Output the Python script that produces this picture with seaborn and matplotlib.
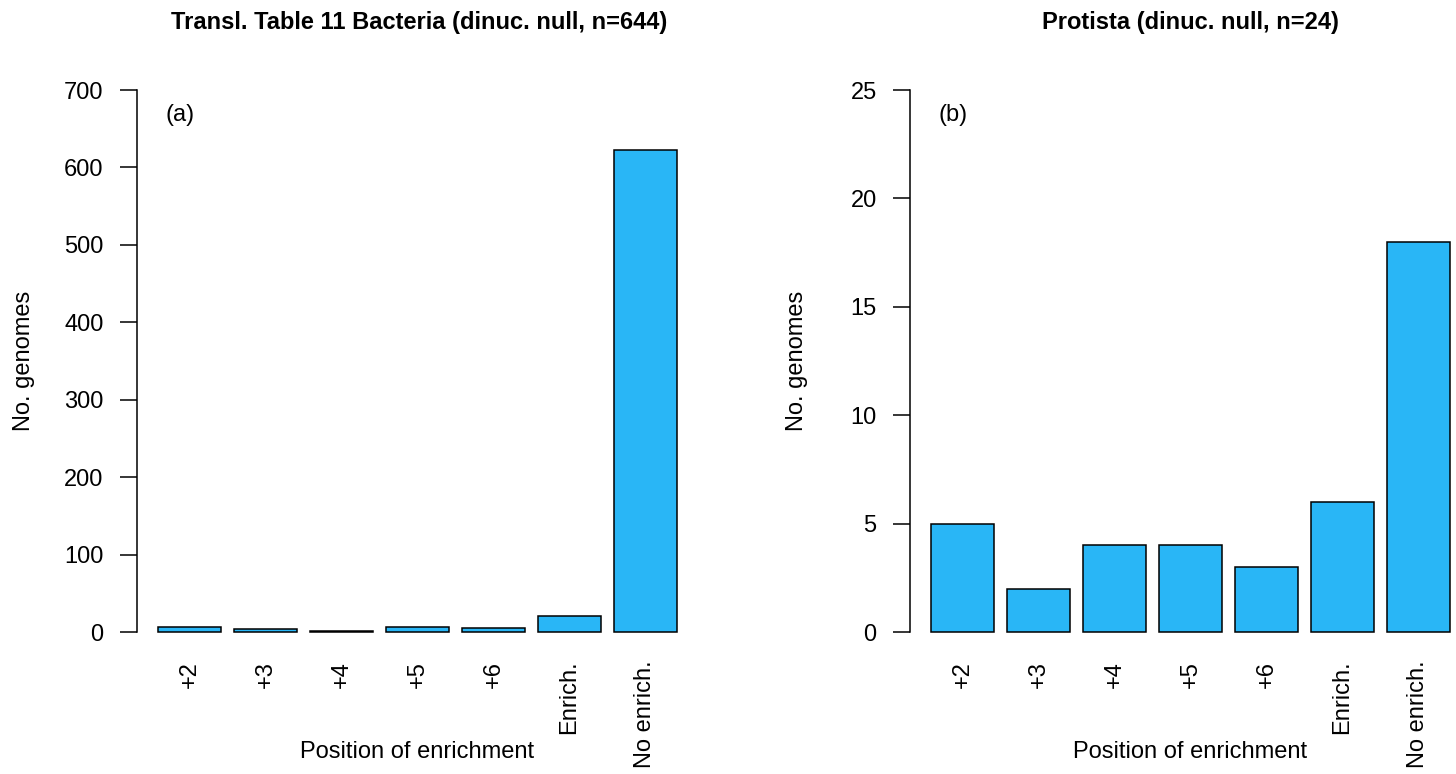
import matplotlib
matplotlib.use("Agg")
import matplotlib.pyplot as plt
import seaborn as sns
import pandas as pd

categories = ["+2", "+3", "+4", "+5", "+6", "Enrich.", "No enrich."]
bacteria_counts = [6, 4, 1, 6, 5, 21, 623]
protista_counts = [5, 2, 4, 4, 3, 6, 18]
titles = ["Transl. Table 11 Bacteria (dinuc. null, n=644)", "Protista (dinuc. null, n=24)"]
panel_labels = ["(a)", "(b)"]
bacteria_yticks = [0, 100, 200, 300, 400, 500, 600, 700]
protista_yticks = [0, 5, 10, 15, 20, 25]

sns.set_style("white")
plt.rcParams["font.family"] = ["Liberation Sans", "DejaVu Sans"]
plt.rcParams["text.color"] = "black"
plt.rcParams["axes.labelcolor"] = "black"
plt.rcParams["xtick.color"] = "black"
plt.rcParams["ytick.color"] = "black"

fig = plt.figure(figsize=(14.56, 7.74), dpi=100)
ax1 = fig.add_axes([0.0941, 0.1554, 0.3853, 0.7563])
ax2 = fig.add_axes([0.625, 0.1554, 0.3853, 0.7563])

bar_color = "#29B6F6"

for ax, counts, title, plabel, yticks in [
    (ax1, bacteria_counts, titles[0], panel_labels[0], bacteria_yticks),
    (ax2, protista_counts, titles[1], panel_labels[1], protista_yticks),
]:
    df = pd.DataFrame({"category": categories, "count": counts})
    sns.barplot(data=df, x="category", y="count", color=bar_color, saturation=1,
                width=0.8333, edgecolor="black", linewidth=1.1, errorbar=None, ax=ax)
    top = yticks[-1]
    ext = 0.04 * top
    ax.set_ylim(-ext, top + ext)
    ax.set_xlim(-0.693, 6.693)
    ax.set_yticks(yticks)
    for s in ["top", "right", "bottom"]:
        ax.spines[s].set_visible(False)
    ax.spines["left"].set_bounds(0, top)
    ax.spines["left"].set_linewidth(1.1)
    ax.spines["left"].set_color("black")
    ax.tick_params(axis="y", length=12, width=1.1, labelsize=17, pad=12, left=True,
                   color="black", labelcolor="black")
    ax.tick_params(axis="x", length=0, labelsize=17, pad=5, labelcolor="black")
    for lab in ax.get_xticklabels():
        lab.set_rotation(90)
        lab.set_va("top")
        lab.set_ha("center")
    ax.set_ylabel("No. genomes", fontsize=17, color="black")
    ax.yaxis.set_label_coords(-0.182, 0.5)
    ax.set_xlabel("Position of enrichment", fontsize=17, color="black")
    ax.xaxis.set_label_coords(0.5, -0.168)
    ax.xaxis.label.set_va("center")
    ax.text(0.05, 0.92, plabel, transform=ax.transAxes, fontsize=17, ha="left",
            va="center", color="black")
    ax.grid(False)

fig.text(419 / 1456, 1 - 22 / 774, titles[0], ha="center", va="center", fontsize=17,
         fontweight="bold", color="black")
fig.text(1190 / 1456, 1 - 22 / 774, titles[1], ha="center", va="center", fontsize=17,
         fontweight="bold", color="black")

fig.savefig("out.png", dpi=100)
